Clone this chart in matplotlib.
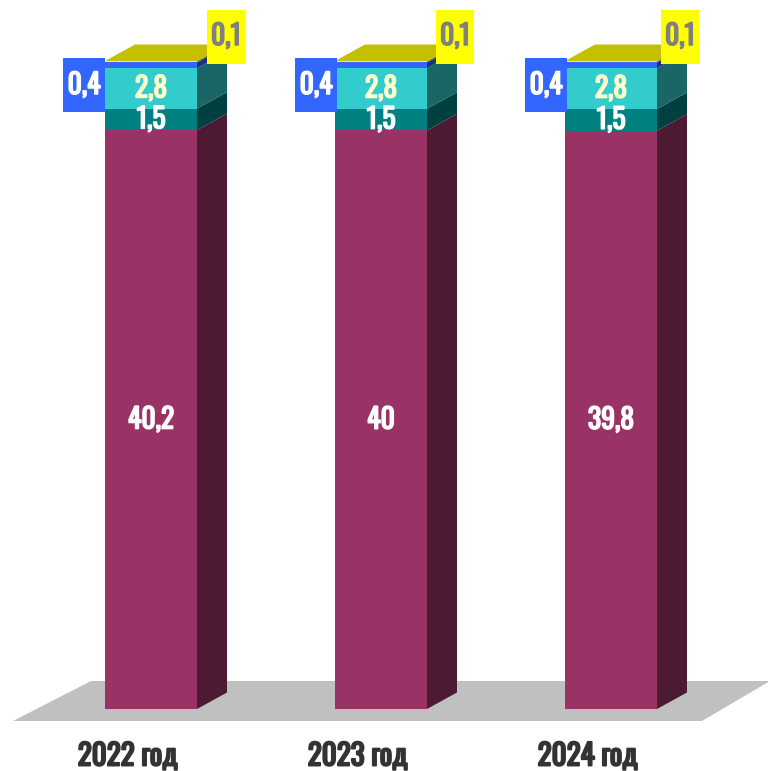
import matplotlib
matplotlib.use("Agg")
import matplotlib.pyplot as plt
import matplotlib.patheffects as pe
from matplotlib.patches import Polygon, Rectangle
import numpy as np

years = ["2022 год", "2023 год", "2024 год"]
s1 = [40.2, 40, 39.8]
s2 = [1.5, 1.5, 1.5]
s3 = [2.8, 2.8, 2.8]
s4 = [0.4, 0.4, 0.4]
s5 = [0.1, 0.1, 0.1]
series = [s1, s2, s3, s4, s5]
labels = [["40,2", "40", "39,8"], ["1,5"] * 3, ["2,8"] * 3, ["0,4"] * 3, ["0,1"] * 3]
front = ["#993366", "#008080", "#33CCCC", "#3366FF", "#FFFF00"]
side = ["#4C1A33", "#004040", "#1A6666", "#1A3380", "#808000"]
top_col = "#C4C000"
txt_col = ["white", "white", "#FFFFCC", "white", "#808080"]

W, H = 768, 771
PX_X, PX_Y = 230.0, 648.0
X0, Y0 = 151.0, 709.0
FONT = ["Oswald", "Roboto", "DejaVu Sans"]

fig = plt.figure(figsize=(W / 100, H / 100), dpi=100)
ax = fig.add_axes([0, 0, 1, 1])
ax.set_xlim(-X0 / PX_X, (W - X0) / PX_X)
ax.set_ylim(-(H - Y0) / PX_Y, Y0 / PX_Y)
ax.axis("off")

dx, dy = 30 / PX_X, 16.5 / PX_Y
bw = 92 / PX_X
xs = np.arange(len(years))

fx = lambda p: (p - X0) / PX_X
fy = lambda p: (Y0 - p) / PX_Y
ax.add_patch(Polygon([(fx(13), fy(721)), (fx(702), fy(721)), (fx(770), fy(681)), (fx(91), fy(681))],
                     closed=True, fc="#C0C0C0", ec="none", zorder=1))

arr = np.array(series, dtype=float)
shares = arr / arr.sum(axis=0)
bottom = np.zeros(len(years))
for k, vals in enumerate(shares):
    ax.bar(xs, vals, bw, bottom=bottom, color=front[k], linewidth=0, zorder=3)
    for i, x in enumerate(xs):
        r = x + bw / 2
        b, t = bottom[i], bottom[i] + vals[i]
        ax.add_patch(Polygon([(r, b), (r + dx, b + dy), (r + dx, t + dy), (r, t)],
                             closed=True, fc=side[k], ec="none", zorder=2))
    bottom = bottom + vals
for i, x in enumerate(xs):
    l, r, t = x - bw / 2, x + bw / 2, bottom[i]
    ax.add_patch(Polygon([(l, t), (r, t), (r + dx, t + dy), (l + dx, t + dy)],
                         closed=True, fc=top_col, ec="none", zorder=2))

cum = np.vstack([np.zeros(len(years)), np.cumsum(shares, axis=0)])


def bold_text(x, y, s, color, size, sw=1.1):
    t = ax.text(x, y, s, color=color, fontsize=size, ha="center", va="center",
                family=FONT, zorder=6)
    t.set_path_effects([pe.withStroke(linewidth=sw, foreground=color)])
    return t


blue_off = [-67, -65, -65]
yellow_off = [75, 74, 69]
box_h = 54 / PX_Y
for k in range(3):
    for i, x in enumerate(xs):
        yc = (cum[k, i] + cum[k + 1, i]) / 2 - 0.5 / PX_Y
        bold_text(x, yc, labels[k][i], txt_col[k], 20)
for i, x in enumerate(xs):
    cx = x + blue_off[i] / PX_X
    ax.add_patch(Rectangle((cx - 21 / PX_X, fy(112)), 42 / PX_X, box_h, fc="#3366FF", ec="none", zorder=5))
    bold_text(cx, fy(85.5), labels[3][i], "white", 20)
    cx = x + yellow_off[i] / PX_X
    ax.add_patch(Rectangle((cx - 19 / PX_X, fy(64)), 38 / PX_X, box_h, fc="#FFFF00", ec="none", zorder=5))
    bold_text(cx, fy(36.5), labels[4][i], "#808080", 20)
    bold_text(x - 23.5 / PX_X, fy(756), years[i], "#333333", 21, sw=1.4)

fig.savefig("out.png", dpi=100)
